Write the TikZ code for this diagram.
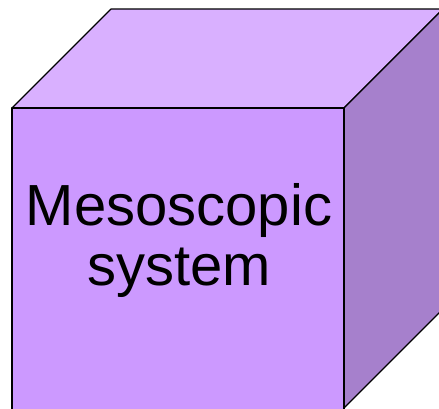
\documentclass[tikz,border=0pt]{standalone}
\usepackage{fontspec}
\setmainfont{Liberation Sans}
\definecolor{cubefront}{RGB}{204,153,255}
\definecolor{cubetop}{RGB}{217,176,255}
\definecolor{cubeside}{RGB}{166,128,204}

\begin{document}
\begin{tikzpicture}[x=1pt,y=-1pt,line width=1.2pt,line join=round]

\useasboundingbox (0,0) rectangle (439,408);
\clip (0,0) rectangle (439,408);
\filldraw[fill=cubetop] (12,108) -- (111,9) -- (443,9) -- (344,108) -- cycle;
\filldraw[fill=cubeside] (344,108) -- (443,9) -- (443,309) -- (344,408) -- cycle;
\filldraw[fill=cubefront] (12,108) rectangle (344,410);
\node[anchor=base,align=center,inner sep=0pt,font=\fontsize{58}{60}\selectfont] (label) at (179,285) {Mesoscopic\\system};
\end{tikzpicture}
\end{document}
